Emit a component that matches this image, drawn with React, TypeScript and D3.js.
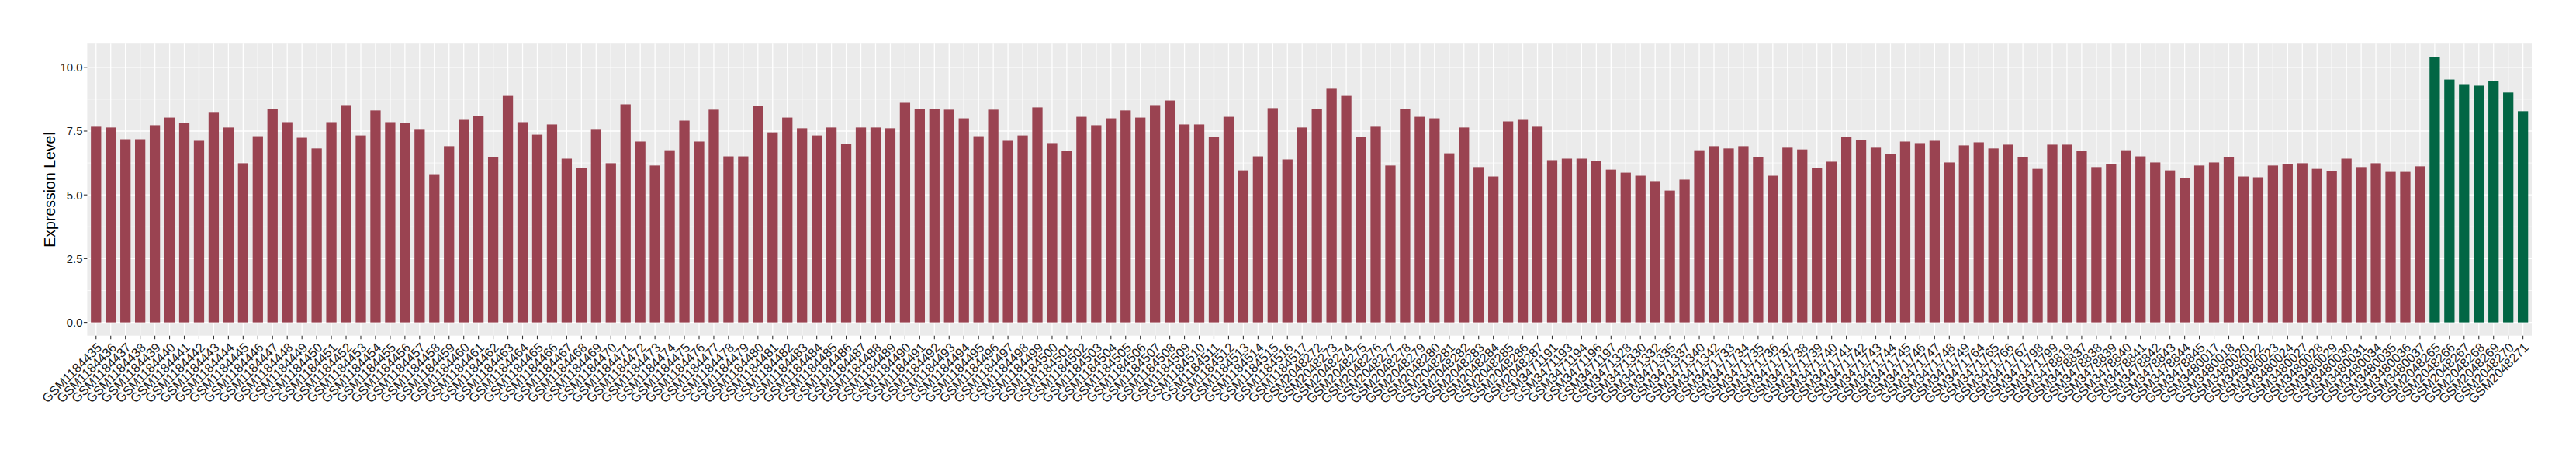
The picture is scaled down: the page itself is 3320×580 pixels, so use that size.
import React from "react";
import * as d3 from "d3";

const redSamples: string[] = [
  "GSM1184435","GSM1184436","GSM1184437","GSM1184438","GSM1184439","GSM1184440","GSM1184441","GSM1184442","GSM1184443","GSM1184444",
  "GSM1184445","GSM1184446","GSM1184447","GSM1184448","GSM1184449","GSM1184450","GSM1184451","GSM1184452","GSM1184453","GSM1184454",
  "GSM1184455","GSM1184456","GSM1184457","GSM1184458","GSM1184459","GSM1184460","GSM1184461","GSM1184462","GSM1184463","GSM1184464",
  "GSM1184465","GSM1184466","GSM1184467","GSM1184468","GSM1184469","GSM1184470","GSM1184471","GSM1184472","GSM1184473","GSM1184474",
  "GSM1184475","GSM1184476","GSM1184477","GSM1184478","GSM1184479","GSM1184480","GSM1184481","GSM1184482","GSM1184483","GSM1184484",
  "GSM1184485","GSM1184486","GSM1184487","GSM1184488","GSM1184489","GSM1184490","GSM1184491","GSM1184492","GSM1184493","GSM1184494",
  "GSM1184495","GSM1184496","GSM1184497","GSM1184498","GSM1184499","GSM1184500","GSM1184501","GSM1184502","GSM1184503","GSM1184504",
  "GSM1184505","GSM1184506","GSM1184507","GSM1184508","GSM1184509","GSM1184510","GSM1184511","GSM1184512","GSM1184513","GSM1184514",
  "GSM1184515","GSM1184516","GSM1184517",
  "GSM2048272","GSM2048273","GSM2048274","GSM2048275","GSM2048276","GSM2048277","GSM2048278","GSM2048279","GSM2048280","GSM2048281",
  "GSM2048282","GSM2048283","GSM2048284","GSM2048285","GSM2048286","GSM2048287",
  "GSM3471191","GSM3471193","GSM3471194","GSM3471196","GSM3471197","GSM3471328","GSM3471330","GSM3471332","GSM3471335","GSM3471337",
  "GSM3471340","GSM3471342","GSM3471733","GSM3471734","GSM3471735","GSM3471736","GSM3471737","GSM3471738","GSM3471739","GSM3471740",
  "GSM3471741","GSM3471742","GSM3471743","GSM3471744","GSM3471745","GSM3471746","GSM3471747","GSM3471748","GSM3471749","GSM3471764",
  "GSM3471765","GSM3471766","GSM3471767","GSM3471798","GSM3471799",
  "GSM3478819","GSM3478837","GSM3478838","GSM3478839","GSM3478840","GSM3478841","GSM3478842","GSM3478843","GSM3478844","GSM3478845",
  "GSM3480017","GSM3480018","GSM3480020","GSM3480022","GSM3480023","GSM3480024","GSM3480027","GSM3480028","GSM3480029","GSM3480030",
  "GSM3480031","GSM3480034","GSM3480035","GSM3480036","GSM3480037",
];

const redValues: number[] = [
  7.67, 7.64, 7.18, 7.18, 7.73, 8.03, 7.82, 7.12, 8.22, 7.64,
  6.24, 7.30, 8.37, 7.85, 7.24, 6.82, 7.85, 8.52, 7.33, 8.31,
  7.85, 7.82, 7.58, 5.81, 6.91, 7.94, 8.09, 6.48, 8.88, 7.85,
  7.36, 7.76, 6.42, 6.05, 7.58, 6.24, 8.55, 7.09, 6.15, 6.75,
  7.91, 7.09, 8.34, 6.51, 6.51, 8.49, 7.45, 8.03, 7.61, 7.33,
  7.64, 7.00, 7.64, 7.64, 7.61, 8.61, 8.37, 8.37, 8.34, 8.00,
  7.30, 8.34, 7.12, 7.33, 8.43, 7.03, 6.72, 8.06, 7.73, 8.00,
  8.31, 8.03, 8.52, 8.70, 7.76, 7.76, 7.27, 8.06, 5.96, 6.51,
  8.40, 6.39, 7.64,
  8.37, 9.16, 8.88, 7.27, 7.67, 6.15, 8.37, 8.06, 8.00, 6.63,
  7.64, 6.09, 5.72, 7.88, 7.94, 7.67,
  6.36, 6.42, 6.42, 6.33, 5.99, 5.87, 5.75, 5.54, 5.17, 5.60,
  6.75, 6.91, 6.82, 6.91, 6.48, 5.75, 6.85, 6.78, 6.05, 6.30,
  7.27, 7.15, 6.85, 6.60, 7.09, 7.03, 7.12, 6.27, 6.94, 7.06,
  6.82, 6.97, 6.48, 6.02, 6.97,
  6.97, 6.72, 6.09, 6.21, 6.75, 6.51, 6.27, 5.96, 5.66, 6.15,
  6.27, 6.48, 5.72, 5.69, 6.15, 6.21, 6.24, 6.02, 5.93, 6.42,
  6.09, 6.24, 5.90, 5.90, 6.12,
];

const greenSamples: string[] = [
  "GSM2048265","GSM2048266","GSM2048267","GSM2048268","GSM2048269","GSM2048270","GSM2048271",
];
const greenValues: number[] = [10.41, 9.52, 9.34, 9.28, 9.46, 9.01, 8.28];

const yTicks: number[] = [0, 2.5, 5, 7.5, 10];
const yMinorTicks: number[] = [1.25, 3.75, 6.25, 8.75];
const yTitle = "Expression Level";

const RED = "#9A4351";
const GREEN = "#026644";

const W = 3320;
const H = 580;
const PL = 112.4;
const PR = 3263;
const PT = 56.2;
const PB = 432.7;
const FONT = "'Liberation Sans', Arial, Helvetica, sans-serif";

export default function App() {
  const data = [
    ...redSamples.map((s, i) => ({ s, v: redValues[i], c: RED })),
    ...greenSamples.map((s, i) => ({ s, v: greenValues[i], c: GREEN })),
  ];
  const maxV = d3.max(data, (d) => d.v) as number;
  const x = d3
    .scalePoint<string>()
    .domain(data.map((d) => d.s))
    .range([PL, PR])
    .padding(0.6);
  const step = x.step();
  const bw = step * 0.7;
  const y = d3
    .scaleLinear()
    .domain([-0.05 * maxV, maxV * 1.05])
    .range([PB, PT]);
  const fmt = d3.format(".1f");

  return (
    <svg
      width={W}
      height={H}
      style={{ position: "absolute", left: 0, top: 0, background: "#fff" }}
      fontFamily={FONT}
    >
      <rect x={0} y={0} width={W} height={H} fill="#fff" />
      <rect x={PL} y={PT} width={PR - PL} height={PB - PT} fill="#EBEBEB" />
      {yMinorTicks.map((t) => (
        <line key={"ym" + t} x1={PL} x2={PR} y1={y(t)} y2={y(t)} stroke="#fff" strokeWidth={0.7} />
      ))}
      {yTicks.map((t) => (
        <line key={"yg" + t} x1={PL} x2={PR} y1={y(t)} y2={y(t)} stroke="#fff" strokeWidth={1.3} />
      ))}
      {data.map((d) => (
        <line key={"xg" + d.s} x1={x(d.s)} x2={x(d.s)} y1={PT} y2={PB} stroke="#fff" strokeWidth={1.3} />
      ))}
      {data.map((d) => (
        <rect
          key={"b" + d.s}
          x={(x(d.s) as number) - bw / 2}
          y={y(d.v)}
          width={bw}
          height={y(0) - y(d.v)}
          fill={d.c}
        />
      ))}
      {yTicks.map((t) => (
        <g key={"yt" + t}>
          <line x1={PL - 4.5} x2={PL} y1={y(t)} y2={y(t)} stroke="#333" strokeWidth={1.1} />
          <text x={PL - 6} y={y(t)} dy="0.36em" textAnchor="end" fontSize={14.8} fill="#1a1a1a">
            {fmt(t)}
          </text>
        </g>
      ))}
      {data.map((d) => (
        <g key={"xt" + d.s}>
          <line x1={x(d.s)} x2={x(d.s)} y1={PB} y2={PB + 4.5} stroke="#333" strokeWidth={1.1} />
          <text
            transform={`translate(${x(d.s)},${PB + 8}) rotate(-45)`}
            textAnchor="end"
            dy="0.72em"
            fontSize={16.5}
            fill="#1a1a1a"
          >
            {d.s}
          </text>
        </g>
      ))}
      <text
        transform={`translate(70.5,${(PT + PB) / 2}) rotate(-90)`}
        textAnchor="middle"
        fontSize={19.5}
        fill="#000"
      >
        {yTitle}
      </text>
    </svg>
  );
}
